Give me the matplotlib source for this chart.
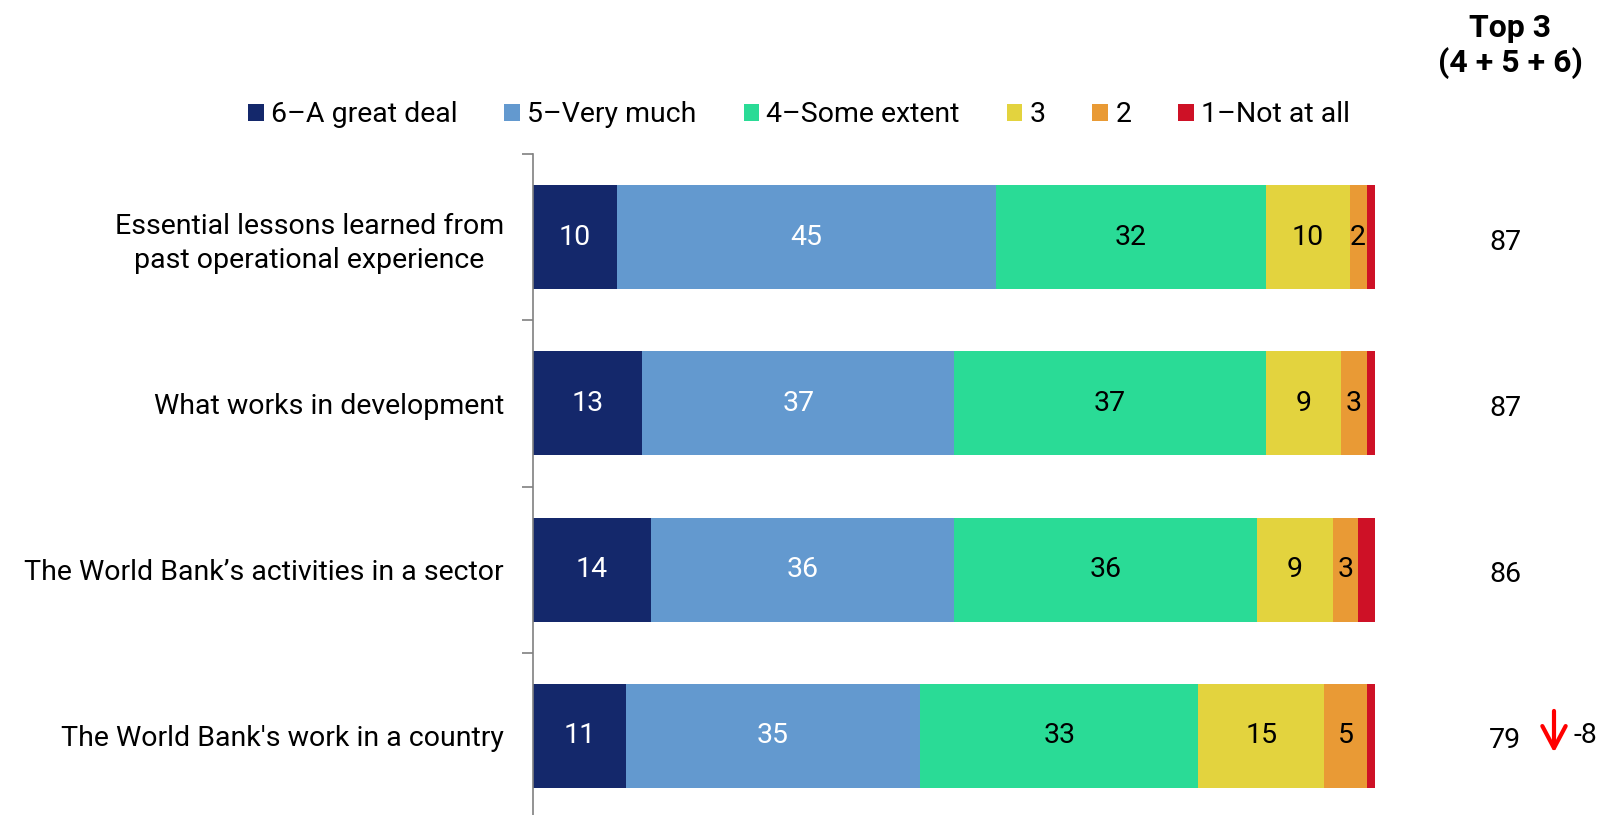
import matplotlib.pyplot as plt
from matplotlib.patches import Patch
from matplotlib.transforms import blended_transform_factory

W, H = 1604, 815

categories = ["Essential lessons learned from\npast operational experience",
              "What works in development",
              "The World Bank\u2019s activities in a sector",
              "The World Bank's work in a country"]
legend_labels = ["6\u2013A great deal", "5\u2013Very much", "4\u2013Some extent", "3", "2", "1\u2013Not at all"]
great_deal = [10, 13, 14, 11]
very_much = [45, 37, 36, 35]
some_extent = [32, 37, 36, 33]
three = [10, 9, 9, 15]
two = [2, 3, 3, 5]
not_at_all = [1, 1, 2, 1]
top3 = [87, 87, 86, 79]
change = [None, None, None, -8]

series = [great_deal, very_much, some_extent, three, two, not_at_all]
colors = ['#14286b', '#6399cf', '#2adb96', '#e3d33e', '#e99a35', '#ce1126']
text_colors = ['white', 'white', 'black', 'black', 'black', None]

plt.rcParams['font.family'] = ['Roboto', 'DejaVu Sans']
FS = 20.5

fig = plt.figure(figsize=(W / 100, H / 100), dpi=100)
ax_l, ax_r, ax_t, ax_b = 533, 1375, 154, 819
ax = fig.add_axes([ax_l / W, 1 - ax_b / H, (ax_r - ax_l) / W, (ax_b - ax_t) / H])

y = list(range(len(categories)))
left = [0] * len(categories)
for vals, c, tc in zip(series, colors, text_colors):
    ax.barh(y, vals, left=left, height=0.625, color=c, edgecolor='none')
    for i, v in enumerate(vals):
        if tc is not None and v >= 2:
            ax.text(left[i] + v / 2, i, str(v), ha='center', va='center',
                    color=tc, fontsize=FS)
    left = [a + b for a, b in zip(left, vals)]

ax.set_xlim(0, 100)
ax.set_ylim(len(categories) - 0.5, -0.5)
for s in ['top', 'right', 'bottom']:
    ax.spines[s].set_visible(False)
ax.spines['left'].set_color('#808080')
ax.spines['left'].set_linewidth(1.2)
ax.set_xticks([])
ax.set_yticks([i - 0.5 for i in range(len(categories) + 1)])
ax.set_yticklabels([])
ax.tick_params(axis='y', which='major', length=8, width=1.2, color='#808080')
ax.set_yticks(y, minor=True)
ax.set_yticklabels(categories, minor=True, fontsize=FS, linespacing=1.32,
                   multialignment='center')
ax.tick_params(axis='y', which='minor', length=0, pad=21)

# Top 3 column
fig.text(1510 / W, 1 - 46 / H, "Top 3\n(4 + 5 + 6)", ha='center', va='center',
         fontsize=23, fontweight='bold', linespacing=1.2)

trans = blended_transform_factory(fig.transFigure, ax.transData)
for i, v in enumerate(top3):
    ax.text(1505 / W, i + 0.03, str(v), transform=trans, ha='center', va='center',
            fontsize=FS, clip_on=False)
    if change[i] is not None:
        ax.annotate('', xy=(1554 / W, i + 0.1), xytext=(1554 / W, i - 0.15),
                    xycoords=trans, textcoords=trans,
                    arrowprops=dict(arrowstyle='->, head_width=0.35, head_length=0.66',
                                    color='red', lw=3, mutation_scale=24,
                                    shrinkA=0, shrinkB=0))
        ax.text(1574 / W, i, str(change[i]), transform=trans, ha='left', va='center',
                fontsize=FS, clip_on=False)

handles = [Patch(facecolor=c, edgecolor='none') for c in colors]
fig.legend(handles, legend_labels, loc='center', bbox_to_anchor=(799 / W, 1 - 115 / H),
           ncol=6, frameon=False, fontsize=FS, handlelength=0.55, handleheight=0.55,
           handletextpad=0.25, columnspacing=1.65)

fig.savefig('out.png', dpi=100)
